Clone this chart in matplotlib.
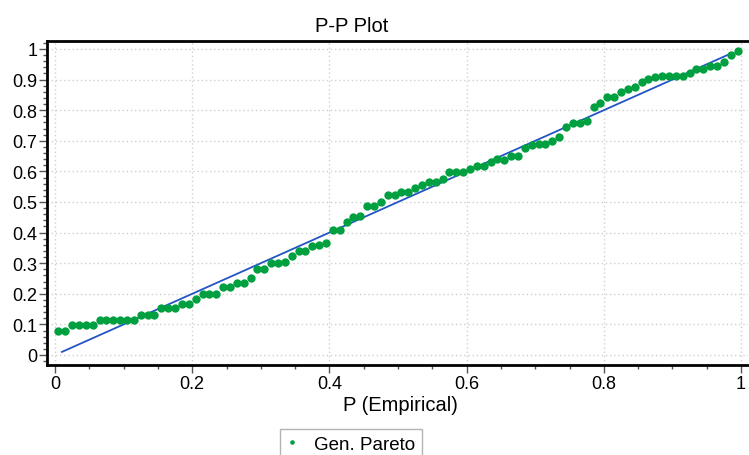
import numpy as np
import matplotlib.pyplot as plt
from matplotlib.ticker import MultipleLocator

plt.rcParams['font.family'] = ['Liberation Sans', 'DejaVu Sans']

### data ###
n_points = 100
p_empirical = (np.arange(n_points) + 0.5) / n_points  # rank positions
p_theoretical = [
    0.079, 0.079, 0.099, 0.099, 0.099, 0.099, 0.115, 0.115, 0.115, 0.115,
    0.115, 0.115, 0.131, 0.131, 0.131, 0.154, 0.154, 0.154, 0.167, 0.167,
    0.183, 0.200, 0.200, 0.200, 0.222, 0.222, 0.235, 0.235, 0.250, 0.281,
    0.281, 0.300, 0.300, 0.305, 0.325, 0.340, 0.340, 0.356, 0.360, 0.366,
    0.408, 0.408, 0.435, 0.450, 0.455, 0.487, 0.487, 0.500, 0.523, 0.523,
    0.533, 0.533, 0.546, 0.556, 0.565, 0.565, 0.575, 0.597, 0.597, 0.598,
    0.608, 0.617, 0.618, 0.630, 0.640, 0.638, 0.650, 0.650, 0.676, 0.686,
    0.690, 0.690, 0.699, 0.712, 0.745, 0.758, 0.758, 0.765, 0.810, 0.823,
    0.844, 0.844, 0.858, 0.870, 0.875, 0.893, 0.902, 0.908, 0.911, 0.911,
    0.911, 0.913, 0.920, 0.934, 0.936, 0.944, 0.945, 0.957, 0.980, 0.993,
]
ref_line = [0.01, 0.98]
series_name = "Gen. Pareto"

x_ticks = [0, 0.2, 0.4, 0.6, 0.8, 1]
x_tick_labels = ["0", "0.2", "0.4", "0.6", "0.8", "1"]
y_ticks = [0, 0.1, 0.2, 0.3, 0.4, 0.5, 0.6, 0.7, 0.8, 0.9, 1]
y_tick_labels = ["0", "0.1", "0.2", "0.3", "0.4", "0.5", "0.6", "0.7", "0.8", "0.9", "1"]

green = "#00A040"
blue = "#2255C4"

### plot ###
fig = plt.figure(figsize=(7.49, 4.56), dpi=100)
ax = fig.add_axes([47 / 749, 90 / 456, 701 / 749, 324 / 456])

ax.plot(ref_line, ref_line, color=blue, linewidth=1.3, zorder=2)
ax.plot(p_empirical, p_theoretical, linestyle="none", marker="o", markersize=6,
        color=green, markeredgewidth=0, label=series_name, zorder=3)

ax.set_xlim(-0.0117, 1.0102)
ax.set_ylim(-0.0327, 1.0261)

ax.set_xticks(x_ticks)
ax.set_xticklabels(x_tick_labels)
ax.set_yticks(y_ticks)
ax.set_yticklabels(y_tick_labels)
ax.xaxis.set_minor_locator(MultipleLocator(0.05))
ax.yaxis.set_minor_locator(MultipleLocator(0.02))
ax.tick_params(axis="both", which="major", length=6, width=1, color="#555555",
               labelsize=13, pad=1)
ax.tick_params(axis="both", which="minor", length=3, width=1, color="#555555")

ax.grid(True, which="major", linestyle=(0, (1, 2)), color="#d0d0d0", linewidth=1)
ax.set_axisbelow(True)

for side in ["left", "bottom", "top"]:
    ax.spines[side].set_linewidth(2)
    ax.spines[side].set_color("black")
ax.spines["right"].set_visible(False)

fig.text(352 / 749, 1 - 32 / 456, "P-P Plot", ha="center", va="baseline", fontsize=14.5)
fig.text(400 / 749, 1 - 411 / 456, "P (Empirical)", ha="center", va="baseline", fontsize=14.5)

leg = fig.legend(loc="upper center", bbox_to_anchor=(351 / 749, 1 - 430 / 456),
                 frameon=True, fancybox=False, fontsize=13.5, markerscale=0.55,
                 handlelength=0.6, handletextpad=0.9, borderpad=0.35,
                 borderaxespad=0)
leg.get_frame().set_edgecolor("#a0a0a0")
leg.get_frame().set_linewidth(1)

plt.savefig("out.png", dpi=100)
